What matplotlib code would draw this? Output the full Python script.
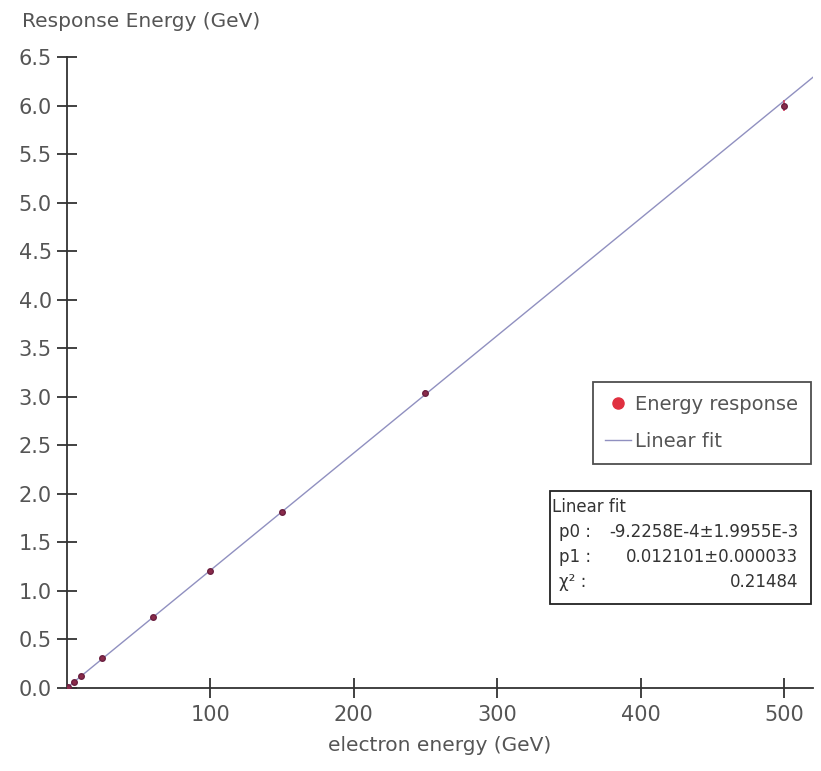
import numpy as np
import matplotlib.pyplot as plt

# electron beam energies and calorimeter response
energy = [1, 5, 10, 25, 60, 100, 150, 250, 500]
response = [0.012, 0.062, 0.125, 0.310, 0.730, 1.210, 1.815, 3.040, 6.00]
response_err = [0.003, 0.006, 0.008, 0.010, 0.012, 0.015, 0.018, 0.025, 0.06]

# fit parameters (shown in stats box)
p0 = -9.2258e-4
p1 = 0.012101
chi2 = 0.21484

xticks = [100, 200, 300, 400, 500]
yticks = [0.0, 0.5, 1.0, 1.5, 2.0, 2.5, 3.0, 3.5, 4.0, 4.5, 5.0, 5.5, 6.0, 6.5]

plt.rcParams['font.family'] = ['DejaVu Sans']

fig = plt.figure(figsize=(8.21, 7.71), dpi=100)
ax = fig.add_axes([0.081, 0.1077, 0.9093, 0.8184])

# --- fit line over full x range ---
xfit = np.array([0, 520])
line, = ax.plot(xfit, p0 + p1 * xfit, color="#9090c0", lw=1.0, zorder=2)

# --- data points ---
ax.errorbar(energy, response, yerr=response_err, fmt="o", ms=4,
            color="#8a2a4a", mec="#6a2040", ecolor="#d04060", elinewidth=1.2,
            capsize=0, zorder=3)
pt, = ax.plot([], [], "o", color="#e03040", ms=8)

ax.set_xlim(0, 520)
ax.set_ylim(0, 6.5)
ax.set_xticks(xticks)
ax.set_yticks(yticks)
ax.set_yticklabels([f"{v:.1f}" for v in yticks])

for s in ["top", "right"]:
    ax.spines[s].set_visible(False)
for s in ["left", "bottom"]:
    ax.spines[s].set_color("#333333")
    ax.spines[s].set_linewidth(1.3)
ax.tick_params(direction="inout", length=15, width=1.3, color="#333333",
               labelsize=15, labelcolor="#555555")
ax.tick_params(axis="y", pad=3)
ax.tick_params(axis="x", pad=5)

fig.text(0.027, 0.9715, "Response Energy (GeV)", fontsize=14.5, color="#555555",
         va="center", ha="left")
fig.text(0.5356, 0.0337, "electron energy (GeV)", fontsize=14.5,
         color="#555555", va="center", ha="center")

leg = fig.legend([pt, line], ["Energy response", "Linear fit"],
                 loc="upper right", bbox_to_anchor=(811 / 821, 1 - 382 / 771),
                 fontsize=14, frameon=True, fancybox=False, handlelength=1.3,
                 handletextpad=0.25, borderpad=0.65, labelspacing=0.95,
                 borderaxespad=0, labelcolor="#555555")
leg.get_frame().set_edgecolor("#222222")
leg.get_frame().set_linewidth(1.3)

# --- stats box ---
bx0, by0, bx1, by1 = 550 / 821, 1 - 604 / 771, 811 / 821, 1 - 491 / 771
fig.patches.append(plt.Rectangle((bx0, by0), bx1 - bx0, by1 - by0,
                                 transform=fig.transFigure, fill=True,
                                 facecolor="white", edgecolor="#222222",
                                 lw=1.3, zorder=5))
fs = 12
fig.text(bx0 + 0.003, 1 - 507 / 771, "Linear fit", fontsize=fs,
         color="#333333", va="center", zorder=6)
rows = [("p0 :", "-9.2258E-4\u00b11.9955E-3"),
        ("p1 :", "0.012101\u00b10.000033"),
        ("\u03c7\u00b2 :", f"{chi2}")]
for i, (k, v) in enumerate(rows):
    y = 1 - (532 + i * 25) / 771
    fig.text(559 / 821, y, k, fontsize=fs, color="#333333",
             va="center", zorder=6)
    fig.text(798 / 821, y, v, fontsize=fs, color="#333333",
             va="center", ha="right", zorder=6)

fig.savefig("out.png", dpi=100)
